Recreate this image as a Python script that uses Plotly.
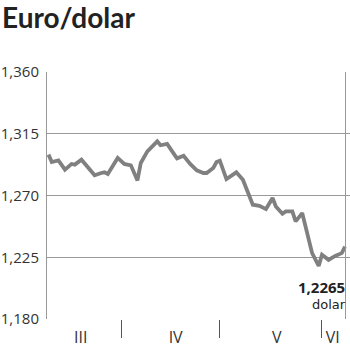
import plotly.graph_objects as go

dates = [
    "2012-03-10", "2012-03-11", "2012-03-13", "2012-03-15", "2012-03-17", "2012-03-18",
    "2012-03-20", "2012-03-22", "2012-03-24", "2012-03-26", "2012-03-27", "2012-03-28",
    "2012-03-30", "2012-03-31", "2012-04-02", "2012-04-04", "2012-04-06", "2012-04-07",
    "2012-04-09", "2012-04-11", "2012-04-12", "2012-04-13", "2012-04-15", "2012-04-17",
    "2012-04-18", "2012-04-20", "2012-04-22", "2012-04-24", "2012-04-26", "2012-04-27",
    "2012-04-29", "2012-04-30", "2012-05-01", "2012-05-03", "2012-05-05", "2012-05-06",
    "2012-05-08", "2012-05-10", "2012-05-11", "2012-05-13", "2012-05-15", "2012-05-17",
    "2012-05-18", "2012-05-20", "2012-05-21", "2012-05-23", "2012-05-24", "2012-05-26",
    "2012-05-27", "2012-05-29", "2012-05-31", "2012-06-01", "2012-06-03", "2012-06-05",
    "2012-06-07", "2012-06-08",
]
rates = [
    1.2998, 1.2944, 1.2956, 1.2888, 1.2930, 1.2925,
    1.2961, 1.2901, 1.2847, 1.2864, 1.2869, 1.2857,
    1.2932, 1.2974, 1.2930, 1.2920, 1.2810, 1.2937,
    1.3022, 1.3076, 1.3095, 1.3066, 1.3076, 1.3005,
    1.2971, 1.2990, 1.2930, 1.2883, 1.2864, 1.2864,
    1.2901, 1.2944, 1.2954, 1.2820, 1.2852, 1.2869,
    1.2815, 1.2693, 1.2633, 1.2625, 1.2601, 1.2682,
    1.2620, 1.2567, 1.2584, 1.2584, 1.2511, 1.2572,
    1.2474, 1.2280, 1.2187, 1.2268, 1.2231, 1.2260,
    1.2280, 1.2328,
]

y_ticks = [1.180, 1.225, 1.270, 1.315, 1.360]
y_tick_text = ["1,180", "1,225", "1,270", "1,315", "1,360"]

month_label_pos = ["2012-03-19 19:00", "2012-04-17 14:00", "2012-05-18 06:00", "2012-06-04 06:00"]
month_labels = ["III", "IV", "V", "VI"]
month_bounds = ["2012-04-01", "2012-05-01", "2012-06-01"]

last_label = "1,2265"
unit_label = "dolar"

fig = go.Figure()
fig.add_trace(go.Scatter(
    x=dates, y=rates, mode="lines",
    line=dict(color="#808080", width=3.8),
    hoverinfo="skip",
))

fig.update_layout(
    width=350, height=351,
    margin=dict(l=47, r=0, t=72, b=32),
    paper_bgcolor="white", plot_bgcolor="white",
    showlegend=False,
    font=dict(family="Open Sans", color="#333333", size=14),
    title=dict(text="<b>Euro/dolar</b>", x=2 / 350, xanchor="left", xref="container",
               y=1 - 18 / 351, yanchor="middle", yref="container",
               font=dict(family="Lato", size=28, color="#222222")),
    xaxis=dict(
        type="date",
        range=["2012-03-09 13:00", "2012-06-09 12:00"],
        tickmode="array", tickvals=month_label_pos, ticktext=month_labels,
        ticks="", showgrid=False, zeroline=False,
        showline=False,
        ticklabelstandoff=7,
        tickfont=dict(size=16, color="#333333"),
        minor=dict(tickmode="array", tickvals=month_bounds, ticks="outside",
                   ticklen=18, tickwidth=1, tickcolor="#555555", showgrid=False),
    ),
    yaxis=dict(
        range=[1.180, 1.360],
        tickmode="array", tickvals=y_ticks, ticktext=y_tick_text,
        showgrid=True, gridcolor="#999999", gridwidth=1,
        zeroline=False, showline=True, linecolor="#999999", linewidth=1,
        ticks="", ticklabelstandoff=4,
        tickfont=dict(size=15, color="#333333"),
    ),
)

# right border of the plot frame
fig.add_shape(type="line", xref="paper", yref="paper",
              x0=(345.5 - 47) / 303, x1=(345.5 - 47) / 303, y0=0, y1=1,
              line=dict(color="#999999", width=1))

fig.add_annotation(
    xref="paper", yref="y", x=(347 - 47) / 303, y=1.1976,
    text="<b><span style='font-size:15px'>" + last_label + "</span></b><br>"
         + "<span style='font-family:DejaVu Sans;font-size:13px'>" + unit_label + "</span>",
    showarrow=False, xanchor="right", yanchor="middle", align="right", borderpad=0,
    font=dict(family="Open Sans", size=12, color="#222222"),
)

fig.write_html("out.html")
